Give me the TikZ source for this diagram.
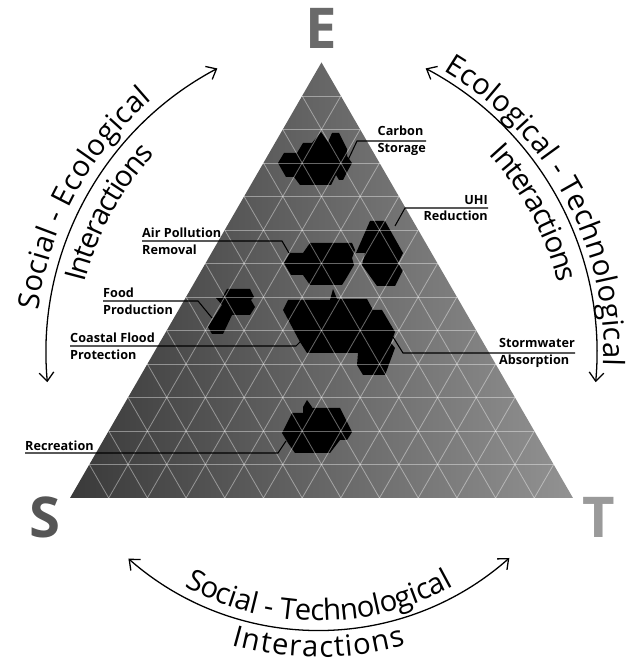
\documentclass[tikz,border=0pt]{standalone}
\usepackage{fontspec}
\setmainfont{Open Sans}
\usetikzlibrary{arrows.meta,decorations.text}

\definecolor{shadeS}{HTML}{3A3A3A}
\definecolor{shadeT}{HTML}{929292}
\definecolor{letterE}{HTML}{6A6A6A}
\definecolor{letterS}{HTML}{555555}
\definecolor{letterT}{HTML}{9A9A9A}

\newcommand{\arcfont}{\fontsize{25}{25}\selectfont}

\tikzset{
  lattice/.style={shift={(70,165)}, x={(11.607mm,0mm)}, y={(5.8035mm,10.052mm)}},
  screen/.style={shift={(0,663)}, yscale=-1},
  gridline/.style={white, opacity=0.4, line width=0.7pt},
  blob/.style={fill=black},
  leader/.style={draw=black, line width=0.9pt},
  service/.style={font=\bfseries\fontsize{10.8}{14.2}\selectfont, inner sep=0pt, align=left},
  cornerletter/.style={font=\bfseries\fontsize{48}{48}\selectfont, inner sep=0pt},
  arcline/.style={line width=1.1pt, {Straight Barb[length=2.6mm,width=4.4mm]}-{Straight Barb[length=2.6mm,width=4.4mm]}},
}

\begin{document}
\begin{tikzpicture}[x=0.3mm, y=0.3mm]
\useasboundingbox (0,0) rectangle (631,663);

% triangle
\begin{scope}[lattice]
\coordinate (S) at (0,0);
\coordinate (T) at (13,0);
\coordinate (E) at (0,13);
\shade[left color=shadeS, right color=shadeT] (S) -- (T) -- (E) -- cycle;
\end{scope}

% services
\begin{scope}[screen]
\fill[blob] (278,163) -- (284,153) -- (297,153) -- (303,143) -- (312,143) -- (321,132) -- (328,142) -- (332,133) -- (339,133) -- (347,149) -- (347,156) -- (352,163) -- (347,172) -- (343,180) -- (339,180) -- (336,175) -- (331,185) -- (300,185) -- (294,177) -- (286,177) -- cycle;
\fill[blob] (284,263) -- (290,253) -- (303,253) -- (310,243) -- (352,243) -- (355,250) -- (352,258) -- (354,265) -- (347,277) -- (342,285) -- (310,285) -- (303,275) -- (291,275) -- cycle;
\fill[blob] (356,253) -- (370,221) -- (385,221) -- (403,253) -- (398,263) -- (403,270) -- (395,286) -- (377,286) -- (362,265) -- (365,253) -- cycle;
\fill[blob] (283,310) -- (288,300) -- (330,300) -- (333,289) -- (337,299) -- (367,299) -- (373,310) -- (382,310) -- (395,332) -- (391,343) -- (395,348) -- (385,375) -- (363,375) -- (357,365) -- (358,353) -- (307,353) -- (300,342) -- cycle;
\fill[blob] (227,289) -- (250,289) -- (254,297) -- (251,300) -- (255,307) -- (250,315) -- (232,315) -- (223,334) -- (212,334) -- (208,327) -- (222,305) -- (216,298) -- (222,298) -- cycle;
\fill[blob] (282,433) -- (292,413) -- (303,413) -- (303,407) -- (307,400) -- (312,407) -- (312,408) -- (340,408) -- (346,420) -- (352,432) -- (347,440) -- (340,440) -- (330,453) -- (295,453) -- (288,443) -- cycle;
\end{scope}

% grid
\begin{scope}[lattice]
\foreach \k in {1,...,12} {
  \draw[gridline] (0,\k) -- ({13-\k},\k);
  \draw[gridline] (\k,0) -- (\k,{13-\k});
  \draw[gridline] (\k,0) -- (0,\k);
}
\end{scope}

% labels
\begin{scope}[screen]
\node[service, anchor=east] (carbon) at (426,141) {Carbon\\Storage};
\node[service, anchor=east, align=right] (uhi) at (488,208) {UHI\\Reduction};
\node[service, anchor=east] (storm) at (575,353) {Stormwater\\Absorption};
\node[service, anchor=west] (air) at (142,241) {Air Pollution\\Removal};
\node[service, anchor=west] (food) at (103,301) {Food\\Production};
\node[service, anchor=west] (coastal) at (70,346) {Coastal Flood\\Protection};
\node[service, anchor=south west, inner ysep=2pt] (recreation) at (25,453) {Recreation};

\coordinate (carbon-knee) at (357,141);
\coordinate (carbon-tip) at (348,160);
\coordinate (uhi-knee) at (405,208);
\coordinate (uhi-tip) at (395,226);
\coordinate (storm-knee) at (403,353);
\coordinate (storm-tip) at (393,337);
\coordinate (air-knee) at (282,241);
\coordinate (air-tip) at (289,253);
\coordinate (food-knee) at (198,301);
\coordinate (food-tip) at (212,318);
\coordinate (coastal-knee) at (296,346);
\coordinate (coastal-tip) at (301,341);
\coordinate (recreation-knee) at (278,453);
\coordinate (recreation-tip) at (286,441);

\draw[leader] (carbon.east) -- (carbon-knee) -- (carbon-tip);
\draw[leader] (uhi.east) -- (uhi-knee) -- (uhi-tip);
\draw[leader] (storm.east) -- (storm-knee) -- (storm-tip);
\draw[leader] (air.west) -- (air-knee) -- (air-tip);
\draw[leader] (food.west) -- (food-knee) -- (food-tip);
\draw[leader] (coastal.west) -- (coastal-knee) -- (coastal-tip);
\draw[leader] (recreation.south west) -- (recreation-knee) -- (recreation-tip);
\end{scope}

% corners
\node[cornerletter, text=letterE] (labelE) at (321.5,635) {E};
\node[cornerletter, text=letterS] (labelS) at (44.5,145.5) {S};
\node[cornerletter, text=letterT] (labelT) at (599,145.5) {T};

% interactions
\coordinate (arcSE) at (368,310);
\coordinate (arcET) at (275,310);
\coordinate (arcST) at (318.5,320.7);

\draw[arcline] ([shift={(185.2:322)}]arcSE) arc[start angle=185.2, end angle=117.9, radius=322];
\path[decorate, decoration={text along path, text align=center, raise=9pt, text={|\arcfont|Social - Ecological}}]
  ([shift={(185.2:322)}]arcSE) arc[start angle=185.2, end angle=117.9, radius=322];
\path[decorate, decoration={text along path, text align=center, raise=-26pt, text={|\arcfont|Interactions}}]
  ([shift={(185.2:322)}]arcSE) arc[start angle=185.2, end angle=117.9, radius=322];

\draw[arcline] ([shift={(62.1:322)}]arcET) arc[start angle=62.1, end angle=-5.2, radius=322];
\path[decorate, decoration={text along path, text align=center, raise=6pt, text={|\arcfont|Ecological - Technological}}]
  ([shift={(62.1:322)}]arcET) arc[start angle=62.1, end angle=-5.2, radius=322];
\path[decorate, decoration={text along path, text align=center, raise=-26pt, text={|\arcfont|Interactions}}]
  ([shift={(62.1:322)}]arcET) arc[start angle=62.1, end angle=-5.2, radius=322];

\draw[arcline] ([shift={(228.7:288)}]arcST) arc[start angle=228.7, end angle=311.5, radius=288];
\path[decorate, decoration={text along path, text align=center, raise=8pt, text={|\arcfont|Social - Technological}}]
  ([shift={(228.7:288)}]arcST) arc[start angle=228.7, end angle=311.5, radius=288];
\path[decorate, decoration={text along path, text align=center, raise=-23pt, text={|\arcfont|Interactions}}]
  ([shift={(228.7:288)}]arcST) arc[start angle=228.7, end angle=311.5, radius=288];
\end{tikzpicture}
\end{document}
